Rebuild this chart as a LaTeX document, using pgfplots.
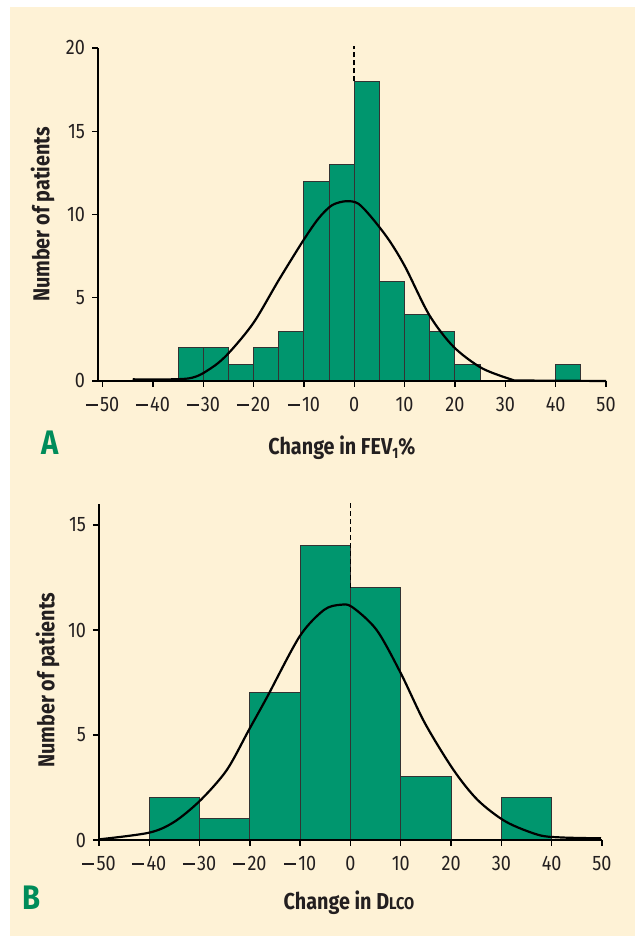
\documentclass[border=0pt]{standalone}
\usepackage{pgfplots}
\pgfplotsset{compat=1.18}
\usepackage{fontspec}
\setmainfont{Fira Sans}[FakeStretch=0.86]
\definecolor{bargreen}{RGB}{0,150,110}
\definecolor{cream}{RGB}{254,242,214}
\definecolor{txt}{RGB}{35,31,32}
\definecolor{lettergreen}{RGB}{0,140,90}
\newcommand\mn{\rule[0.27em]{0.58em}{0.07em}\hspace{0.1em}}
\pgfplotsset{hist/.style={
 scale only axis, axis lines*=left, axis on top,
 tick align=outside, major tick length=3pt,
 tick style={black, line width=0.7pt},
 x axis line style={line width=1.3pt},
 y axis line style={line width=0.8pt},
 /pgf/number format/assume math mode=true,
 ticklabel style={font=\fontsize{10.5}{12}\selectfont, text=txt},
 xticklabel style={yshift=-1.5pt},
 label style={font=\bfseries\fontsize{11.5}{13}\selectfont, text=txt},
 xtick={-50,-40,...,50},
 xticklabels={\mn50,\mn40,\mn30,\mn20,\mn10,0,10,20,30,40,50},
 clip=false,
}}
\begin{document}
\begin{tikzpicture}
\useasboundingbox (0,0) rectangle (317.5pt,468pt);
\fill[white] (0,0) rectangle (317.5pt,468pt);
\fill[cream] (5pt,0) rectangle (317.5pt,464.5pt);

\begin{axis}[hist, at={(49pt,277.5pt)}, anchor=south west, width=254pt, height=166.5pt,
 xmin=-50.9, xmax=50, ymin=0, ymax=20, ytick={0,5,10,15,20},
 xlabel={Change in FEV\raisebox{-0.35ex}{\fontsize{7.5}{8}\selectfont 1}\%}, ylabel={Number of patients},
 xlabel style={at={(axis description cs:0.48,-0.2)}, anchor=center},
 ylabel style={at={(axis description cs:-0.109,0.5)}, anchor=center}]
\addplot[ybar interval, fill=bargreen, draw=black!80, line width=0.5pt] coordinates {(-35,2) (-30,2) (-25,1) (-20,2) (-15,3) (-10,12) (-5,13) (0,18) (5,6) (10,4) (15,3) (20,1) (25,0) (30,0) (35,0) (40,1) (45,1)};
\addplot[smooth, line width=1.1pt, black] coordinates {(-44,0.1) (-33,0.15) (-28.5,0.76) (-25,1.66) (-20,3.5) (-15,6.06) (-10,8.5) (-7,9.8) (-4.4,10.56) (-1.6,10.8) (0.8,10.65) (3.5,9.8) (6.9,8.46) (10.1,6.86) (14.9,3.96) (19.7,2.06) (25.4,0.76) (31.8,0.03)};
\addplot[black, line width=1.1pt] coordinates {(31.8,0.03) (50,0)};
\addplot[black, line width=0.8pt, dash pattern=on 2.5pt off 1.5pt] coordinates {(0,18) (0,20.1)};
\end{axis}

\begin{axis}[hist, at={(49.5pt,48pt)}, anchor=south west, width=251.5pt, height=168pt,
 xmin=-50, xmax=50, ymin=0, ymax=16, ytick={0,5,10,15},
 xlabel={Change in D{\fontsize{8.5}{9}\selectfont LCO}}, ylabel={Number of patients},
 xlabel style={at={(axis description cs:0.497,-0.1875)}, anchor=center},
 ylabel style={at={(axis description cs:-0.102,0.476)}, anchor=center}]
\addplot[ybar interval, fill=bargreen, draw=black!80, line width=0.5pt] coordinates {(-40,2) (-30,1) (-20,7) (-10,14) (0,12) (10,3) (20,0) (30,2) (40,2)};
\addplot[smooth, line width=1.1pt, black] coordinates {(-50,0.03) (-40,0.35) (-35,0.87) (-29.8,1.9) (-24.6,3.33) (-20.2,5.24) (-16.6,6.8) (-10.1,9.7) (-5.3,10.95) (-2.1,11.2) (0.3,11.1) (5.2,10.0) (10,7.94) (14.8,5.56) (20.5,3.33) (25.3,1.9) (30.9,0.87) (37.4,0.24) (42,0.12) (49.8,0.08)};
\addplot[black, line width=0.8pt, dash pattern=on 2.5pt off 1.5pt] coordinates {(0,12) (0,16.05)};
\end{axis}

\node[font=\bfseries\fontsize{17}{19}\selectfont, text=lettergreen] at (25pt,246.5pt) {A};
\node[font=\bfseries\fontsize{17}{19}\selectfont, text=lettergreen] at (16pt,19pt) {B};
\end{tikzpicture}
\end{document}
